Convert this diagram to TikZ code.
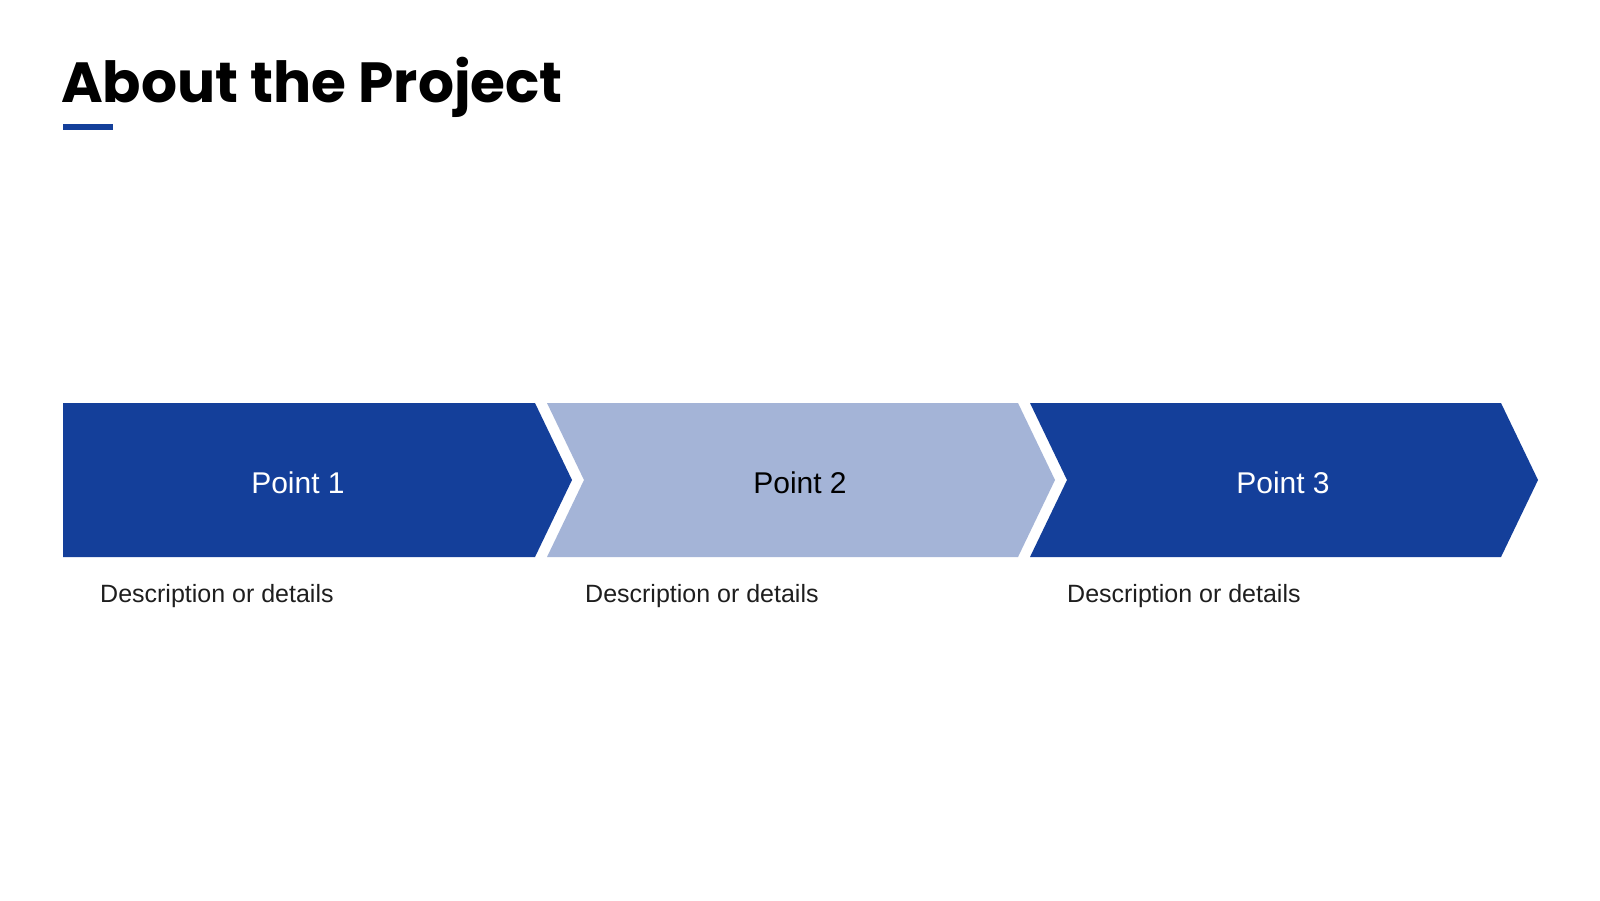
\documentclass[tikz,border=0pt]{standalone}
\usepackage{fontspec}
\setmainfont{Liberation Sans}
\newfontfamily\titlefont{Poppins}
\definecolor{darkblue}{HTML}{143F9A}
\definecolor{lightblue}{HTML}{A4B4D7}
\definecolor{desctext}{HTML}{1E1E1E}
\begin{document}
\begin{tikzpicture}[x=1pt,y=-1pt,
  pointlabel/.style={inner sep=0pt,anchor=base,font=\fontsize{30}{36}\selectfont},
  desclabel/.style={inner sep=0pt,anchor=base west,text=desctext,font=\fontsize{25}{30}\selectfont}]
\useasboundingbox[fill=white] (0,0) rectangle (1600,900);
% title
\node[inner sep=0pt,anchor=base west,font=\titlefont\bfseries\fontsize{56.6}{64}\selectfont] (title) at (61,102) {About the Project};
\fill[darkblue] (63,124) rectangle (113,130);
% chevrons
\fill[darkblue] (63,403) -- (535,403) -- (572,480) -- (535,557) -- (63,557) -- cycle;
\fill[lightblue] (547,403) -- (1018,403) -- (1055,480) -- (1018,557) -- (547,557) -- (584,480) -- cycle;
\fill[darkblue] (1030,403) -- (1501,403) -- (1538,480) -- (1501,557) -- (1030,557) -- (1067,480) -- cycle;
% labels
\node[pointlabel,text=white] (p1) at (298,493) {Point 1};
\node[pointlabel,text=black] (p2) at (800,493) {Point 2};
\node[pointlabel,text=white] (p3) at (1283,493) {Point 3};
\node[desclabel] (d1) at (100,602) {Description or details};
\node[desclabel] (d2) at (585,602) {Description or details};
\node[desclabel] (d3) at (1067,602) {Description or details};
\end{tikzpicture}
\end{document}
